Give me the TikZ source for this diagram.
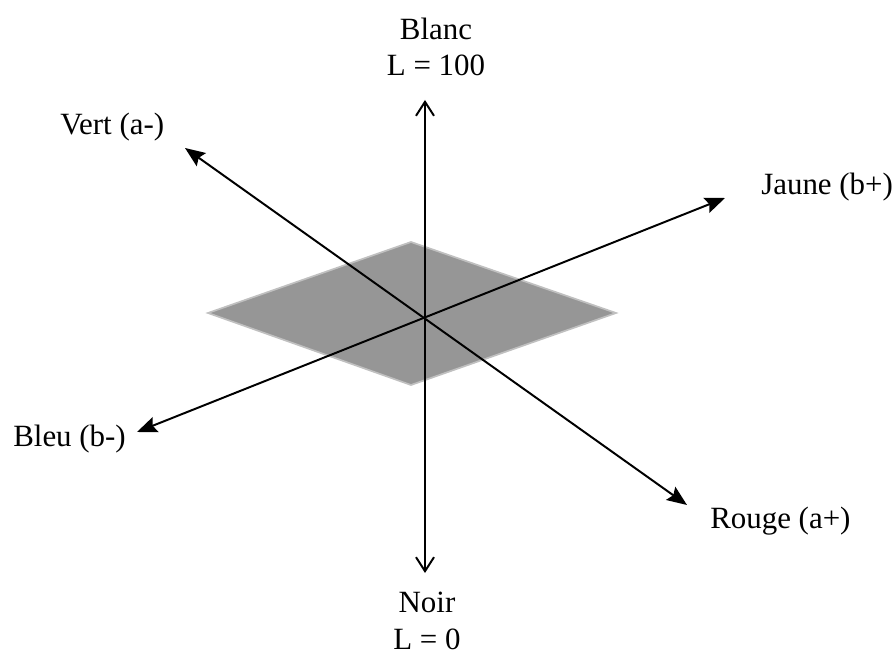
\documentclass[tikz,border=0pt]{standalone}
\usepackage{fontspec}
\setmainfont{Liberation Serif}
\usetikzlibrary{arrows.meta}
\definecolor{planfill}{RGB}{150,150,150}
\definecolor{planedge}{RGB}{192,192,192}

\begin{document}
\begin{tikzpicture}[
    axisline/.style={line width=1.4pt},
    axislabel/.style={inner sep=0pt, font=\fontsize{22}{26}\selectfont}
]
    \useasboundingbox (-10.625,-8.4) rectangle (11.725,7.95);

    % Draw plane
    \draw[planedge, fill=planfill, line width=1.2pt] (-5.425,0.125) -- (-0.35,1.9) -- (4.775,0.125) -- (-0.35,-1.675) -- cycle;

    % Axis ends
    \coordinate (blanc) at (0,5.45);
    \coordinate (noir) at (0,-6.375);
    \coordinate (vert) at (-6.0,4.25);
    \coordinate (rouge) at (6.55,-4.675);
    \coordinate (jaune) at (7.5,3.0);
    \coordinate (bleu) at (-7.2,-2.85);

    % Draw axes
    \draw[axisline, {Straight Barb[length=0.35cm, width=0.45cm]}-{Straight Barb[length=0.35cm, width=0.45cm]}] (noir) -- (blanc);
    \draw[axisline, {Stealth[length=0.5cm, width=0.4cm, inset=0.08cm]}-{Stealth[length=0.5cm, width=0.4cm, inset=0.08cm]}] (vert) -- (rouge);
    \draw[axisline, {Stealth[length=0.5cm, width=0.4cm, inset=0.08cm]}-{Stealth[length=0.5cm, width=0.4cm, inset=0.08cm]}] (bleu) -- (jaune);

    % Labels
    \node[axislabel, anchor=north, align=center] (lblanc) at (0.275,7.5125) {Blanc\\L = 100};
    \node[axislabel, anchor=north, align=center] (lnoir) at (0.05,-6.85) {Noir\\L = 0};
    \node[axislabel, anchor=base west] (lvert) at (-9.125,4.575) {Vert (a-)};
    \node[axislabel, anchor=base west] (lbleu) at (-10.3,-3.225) {Bleu (b-)};
    \node[axislabel, anchor=base west] (lrouge) at (7.125,-5.2625) {Rouge (a+)};
    \node[axislabel, anchor=base west] (ljaune) at (8.4,3.075) {Jaune (b+)};
\end{tikzpicture}
\end{document}
